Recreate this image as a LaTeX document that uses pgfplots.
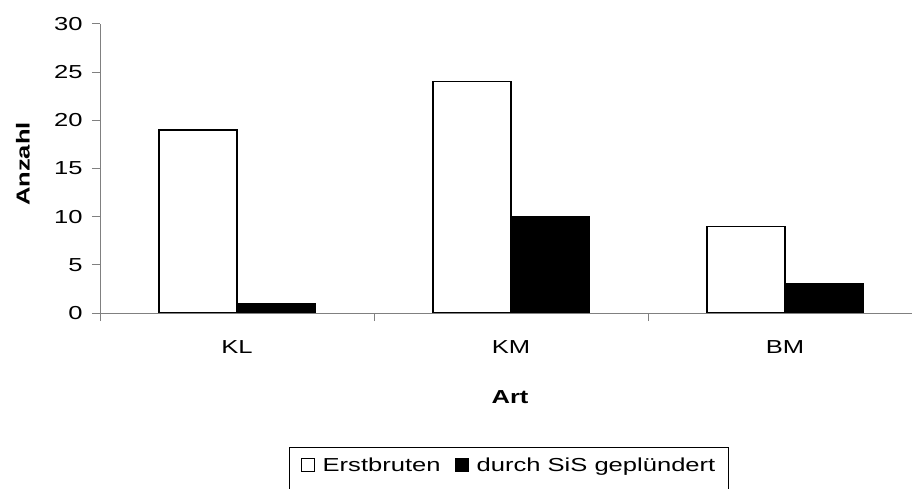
\documentclass[border=0pt]{standalone}
\usepackage{pgfplots}
\pgfplotsset{compat=1.18}
\usepackage{fontspec}
\setmainfont{Liberation Sans}[FakeStretch=1.36]
\definecolor{axisgray}{RGB}{128,128,128}
\begin{document}
\begin{tikzpicture}[font=\fontsize{18.8bp}{22bp}\selectfont]
\begin{axis}[
  at={(100bp,176bp)}, anchor=south west,
  width=822bp, height=289bp, scale only axis,
  xmin=-0.5, xmax=2.5, ymin=0, ymax=30,
  axis x line*=bottom, axis y line*=left,
  axis line style={draw=axisgray, line width=1bp},
  ybar=0pt, bar width=78bp,
  xtick={-0.5,0.5,1.5,2.5}, xticklabels={KL,KM,BM},
  x tick label as interval,
  ytick={0,5,10,15,20,25,30},
  tick align=outside, major tick length=8bp,
  tick style={draw=axisgray, line width=1bp},
  /pgf/number format/assume math mode=true,
  yticklabel style={xshift=-6bp},
  xticklabel style={yshift=-16bp},
  every axis x label/.style={at={(axis description cs:0.4988,-0.2907)}, anchor=center, font=\fontsize{18.8bp}{22bp}\selectfont\bfseries},
  every axis y label/.style={at={(axis description cs:-0.0937,0.5156)}, rotate=90, anchor=center, font=\fontsize{18.8bp}{22bp}\selectfont\bfseries},
  xlabel={Art}, ylabel={Anzahl},
  legend columns=2,
  legend style={draw=none, fill=none, at={(axis description cs:0.4976,-0.526)}, anchor=center,
    /tikz/every odd column/.append style={column sep=6bp},
    /tikz/every even column/.append style={column sep=12bp}},
  legend image code/.code={\draw[#1, line width=1bp] (0bp,-6.5bp) rectangle (13bp,6.5bp);},
  after end axis/.code={\draw[black, line width=1bp] (axis description cs:0.2311,-0.66) rectangle (axis description cs:0.7640,-0.4637);},
]
\addplot[draw=black, fill=white, line width=1.2bp] coordinates {(0,19) (1,24) (2,9)};
\addlegendentry{Erstbruten}
\addplot[draw=black, fill=black, line width=1.2bp] coordinates {(0,1) (1,10) (2,3)};
\addlegendentry{durch SiS geplündert}
\end{axis}
\pgfresetboundingbox
\useasboundingbox (0,0) rectangle (912bp,489bp);
\end{tikzpicture}
\end{document}
